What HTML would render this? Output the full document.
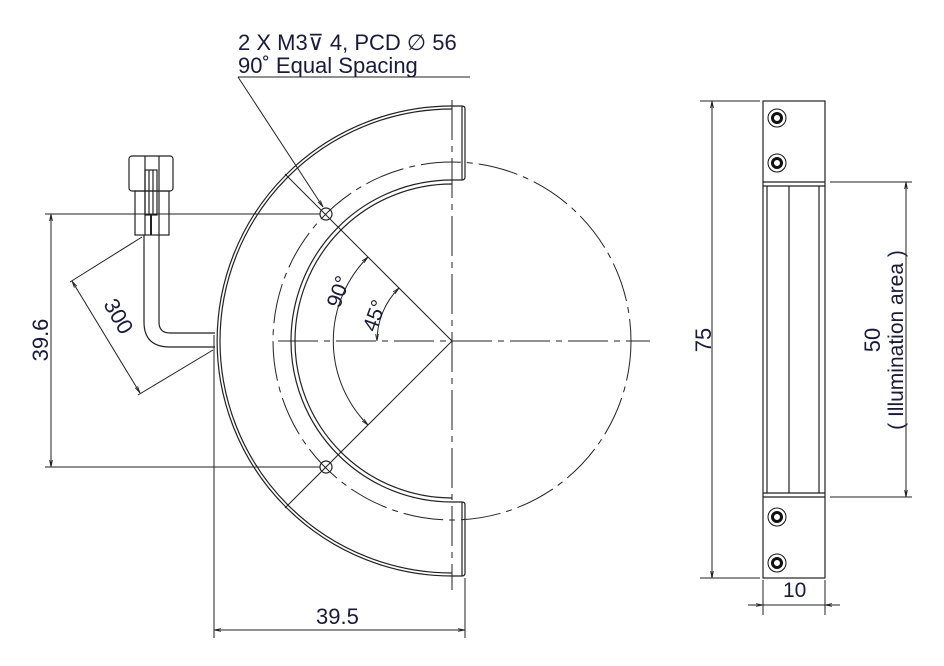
<!DOCTYPE html>
<html><head><style>body{margin:0;background:#fff}svg{display:block}text{font-family:"Liberation Sans",sans-serif;fill:#1a1a3a}</style></head><body>
<svg width="944" height="666" viewBox="0 0 944 666" xmlns="http://www.w3.org/2000/svg">
<defs><marker id="a" viewBox="0 0 10 10" refX="10" refY="5" markerWidth="7" markerHeight="7" orient="auto-start-reverse"><path d="M0,3 L10,5 L0,7" fill="none" stroke="#222" stroke-width="1.2"/></marker></defs>
<g fill="none" stroke="#222" stroke-width="1.2">
<path d="M452,106 A235,235 0 0 0 452,576 L462,576 Q465,576 465,573 L465,505 Q465,502 462,502 L452,502 A161,161 0 0 1 452,180 L462,180 Q465,180 465,177 L465,109 Q465,106 462,106 Z"/>
<path d="M452,109 A232,232 0 0 0 452,573"/>
<path d="M452,184 A157,157 0 0 0 452,498"/>
<line x1="462" y1="106" x2="462" y2="180"/><line x1="462" y1="502" x2="462" y2="576"/>
<circle cx="452" cy="341" r="179" stroke-dasharray="40,6,6,6" stroke-width="1"/>
<line x1="278" y1="341" x2="650" y2="341" stroke-dasharray="40,6,6,6" stroke-width="1"/>
<line x1="452" y1="100" x2="452" y2="590" stroke-dasharray="40,6,6,6" stroke-width="1"/>
<line x1="452" y1="341" x2="285" y2="174" stroke-width="1"/>
<line x1="452" y1="341" x2="285" y2="508" stroke-width="1"/>
<circle cx="326" cy="214" r="6"/><circle cx="326" cy="467" r="6"/>
<path d="M368,257 A119,119 0 0 0 368,425" marker-start="url(#a)" marker-end="url(#a)" stroke-width="1"/>
<path d="M399,288 A75,75 0 0 0 377,341" marker-start="url(#a)" marker-end="url(#a)" stroke-width="1"/>
<rect x="129" y="156" width="44" height="35" rx="3"/>
<rect x="135" y="191" width="34" height="44"/>
<line x1="145" y1="156" x2="145" y2="235"/><line x1="159" y1="156" x2="159" y2="235"/>
<rect x="145" y="170" width="12" height="45"/><line x1="149" y1="170" x2="149" y2="215"/><line x1="153" y1="170" x2="153" y2="215"/>
<line x1="151" y1="215" x2="151" y2="235" stroke-width="2"/>
<path d="M144,235 L144,322 Q144,347 170,347 L215,347"/>
<path d="M159,235 L159,322 Q159,333 170,333 L215,333"/>
<line x1="238" y1="77" x2="470" y2="77" stroke-width="1"/>
<line x1="238" y1="77" x2="323" y2="207" marker-end="url(#a)" stroke-width="1"/>
<line x1="45" y1="214" x2="320" y2="214" stroke-width="1"/><line x1="45" y1="467" x2="320" y2="467" stroke-width="1"/>
<line x1="51" y1="214" x2="51" y2="467" marker-start="url(#a)" marker-end="url(#a)" stroke-width="1"/>
<line x1="142" y1="237" x2="70" y2="282" stroke-width="1"/><line x1="213" y1="350" x2="138" y2="395" stroke-width="1"/>
<line x1="72" y1="281" x2="140" y2="393" marker-start="url(#a)" marker-end="url(#a)" stroke-width="1"/>
<line x1="214" y1="335" x2="214" y2="638" stroke-width="1"/><line x1="465" y1="578" x2="465" y2="638" stroke-width="1"/>
<line x1="214" y1="630" x2="465" y2="630" marker-start="url(#a)" marker-end="url(#a)" stroke-width="1"/>
<rect x="763" y="101" width="62" height="477"/>
<line x1="763" y1="182" x2="825" y2="182"/><line x1="763" y1="186" x2="825" y2="186"/>
<line x1="763" y1="493" x2="825" y2="493"/><line x1="763" y1="497" x2="825" y2="497"/>
<line x1="767" y1="186" x2="767" y2="493"/><line x1="789" y1="186" x2="789" y2="493"/><line x1="819" y1="186" x2="819" y2="493"/>
<line x1="700" y1="101" x2="760" y2="101" stroke-width="1"/><line x1="700" y1="578" x2="760" y2="578" stroke-width="1"/>
<line x1="712" y1="101" x2="712" y2="578" marker-start="url(#a)" marker-end="url(#a)" stroke-width="1"/>
<line x1="830" y1="182" x2="912" y2="182" stroke-width="1"/><line x1="830" y1="497" x2="912" y2="497" stroke-width="1"/>
<line x1="906" y1="182" x2="906" y2="497" marker-start="url(#a)" marker-end="url(#a)" stroke-width="1"/>
<line x1="763" y1="580" x2="763" y2="615" stroke-width="1"/><line x1="825" y1="580" x2="825" y2="615" stroke-width="1"/>
<line x1="748" y1="605" x2="763" y2="605" marker-end="url(#a)" stroke-width="1"/><line x1="840" y1="605" x2="825" y2="605" marker-end="url(#a)" stroke-width="1"/><line x1="763" y1="605" x2="825" y2="605" stroke-width="1"/>
</g>
<g fill="none" stroke="#111">
<circle cx="777" cy="118" r="9" stroke-width="1"/><circle cx="777" cy="118" r="4.5" stroke-width="3"/>
<circle cx="777" cy="163" r="9" stroke-width="1"/><circle cx="777" cy="163" r="4.5" stroke-width="3"/>
<circle cx="777" cy="517" r="9" stroke-width="1"/><circle cx="777" cy="517" r="4.5" stroke-width="3"/>
<circle cx="777" cy="563" r="9" stroke-width="1"/><circle cx="777" cy="563" r="4.5" stroke-width="3"/>
</g>
<text x="238" y="50" font-size="22">2 X M3⊽ 4, PCD ∅ 56</text>
<text x="238" y="73" font-size="22">90˚ Equal Spacing</text>
<text x="316" y="624" font-size="22">39.5</text>
<text x="783" y="597" font-size="21">10</text>
<text font-size="22" transform="translate(48,340) rotate(-90)" text-anchor="middle">39.6</text>
<text font-size="22" transform="translate(711,340) rotate(-90)" text-anchor="middle">75</text>
<text font-size="22" transform="translate(880,340) rotate(-90)" text-anchor="middle">50</text>
<text font-size="21" transform="translate(903,340) rotate(-90)" text-anchor="middle">( Illumination area )</text>
<text font-size="22" transform="translate(112,320) rotate(60)" text-anchor="middle">300</text>
<text font-size="21" transform="translate(345,294) rotate(-70)" text-anchor="middle">90°</text>
<text font-size="21" transform="translate(381,318) rotate(-70)" text-anchor="middle">45°</text>
</svg>
</body></html>
